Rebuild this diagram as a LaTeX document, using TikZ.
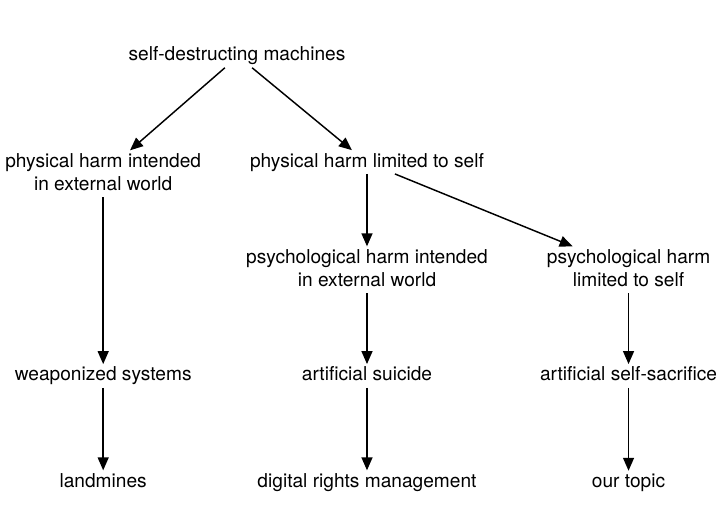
\documentclass[tikz,border=0pt]{standalone}
\usepackage{fontspec}
\setmainfont{TeX Gyre Heros}
\usetikzlibrary{positioning,calc,arrows.meta}
\tikzset{font=\fontsize{14.4pt}{17.25pt}\selectfont}
\tikzset{harm/.style={-{Triangle[length=9.75pt,width=8.25pt]}, line width=1.1pt}}

\begin{document}
\begin{tikzpicture}
	\useasboundingbox (0, 0) rectangle (19.05, -13.52);
	\begin{scope}
		\tikzstyle{every node}=[align=center, anchor=base, inner sep=2pt, text depth=3pt]
		\node (sdm) at (6.27, -1.61) {self-destructing machines};

		\node (phie) at (2.73, -5.03) {physical harm intended\\in external world};
		\node (phls) at (9.71, -4.42) {physical harm limited to self};

		\node (psie) at (9.71, -7.57) {psychological harm intended\\in external world};
		\node (psls) at (16.63, -7.57) {psychological harm\\limited to self};

		\node (weap) at (2.73, -10.08) {weaponized systems};
		\node (suic) at (9.71, -10.08) {artificial suicide};
		\node (sacr) at (16.63, -10.08) {artificial self-sacrifice};

		\node (land) at (2.73, -12.89) {landmines};
		\node (drm) at (9.71, -12.89) {digital rights management};
		\node (topic) at (16.63, -12.89) {our topic};

		\draw [harm] ([xshift=-0.32cm]sdm.south) to ([xshift=0.71cm]phie.north);
		\draw [harm] ([xshift=0.40cm]sdm.south) to ([xshift=-0.40cm]phls.north);
		\draw [harm] (phls) to (psie);
		\draw [harm] ([xshift=0.74cm]phls.south) to ([xshift=-1.48cm]psls.north);

		\draw [harm] (phie) to (weap);
		\draw [harm] (psie) to (suic);
		\draw [harm] (psls) to (sacr);

		\draw [harm] (weap) to (land);
		\draw [harm] (suic) to (drm);
		\draw [harm] (sacr) to (topic);
	\end{scope}
\end{tikzpicture}
\end{document}
